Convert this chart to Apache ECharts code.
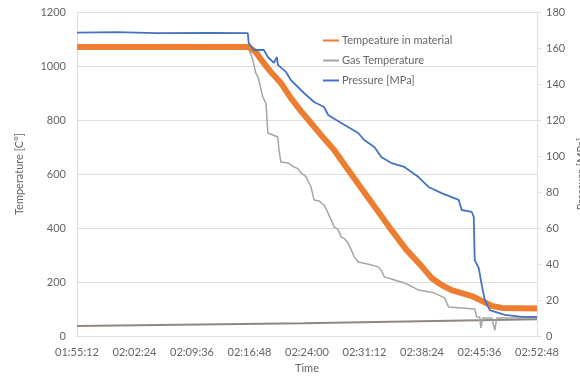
<!DOCTYPE html>
<html>
<head>
<meta charset="utf-8">
<script src="https://cdn.jsdelivr.net/npm/echarts@6/dist/echarts.min.js"></script>
<style>
  html, body { margin: 0; padding: 0; background: #fff; }
  #chart { width: 580px; height: 378px; }
</style>
</head>
<body>
<div id="chart"></div>
<script>
// start of the record, x values are seconds elapsed since then
const startTime = 6912 // 01:55:12
const timeMax = 3456
const timeStep = 432

// [elapsed s, °C]
const materialTemp = [
  [0, 1070], [1290, 1070], [1343, 1052], [1396, 1015], [1456, 978], [1532, 937],
  [1607, 881], [1683, 833], [1758, 789], [1834, 744], [1932, 689], [2022, 626],
  [2135, 548], [2249, 470], [2362, 393], [2475, 319], [2588, 259], [2664, 215],
  [2739, 189], [2815, 170], [2890, 159], [2966, 148], [3041, 130], [3117, 111],
  [3192, 104], [3456, 102],
]

// [elapsed s, °C]
const gasTemp = [
  [0, 1068], [1290, 1067], [1321, 1022], [1343, 974], [1360, 960], [1396, 885],
  [1420, 860], [1434, 752], [1509, 737], [1517, 689], [1532, 644], [1585, 641],
  [1630, 626], [1660, 620], [1683, 604], [1720, 590], [1758, 552], [1781, 504],
  [1820, 500], [1856, 485], [1880, 462], [1909, 430], [1932, 404], [1960, 395],
  [1985, 367], [2010, 360], [2037, 344], [2060, 320], [2083, 293], [2113, 274],
  [2190, 266], [2264, 256], [2290, 240], [2309, 219], [2380, 208], [2460, 196],
  [2510, 185], [2566, 170], [2620, 166], [2686, 159], [2762, 141], [2792, 107],
  [2988, 100], [3003, 70], [3026, 70], [3034, 30], [3049, 67], [3117, 67],
  [3139, 22], [3154, 67], [3456, 67],
]

// [elapsed s, MPa]
const pressure = [
  [0, 168.5], [300, 168.8], [600, 168.3], [1000, 168.4], [1283, 168.3], [1290, 162.8],
  [1328, 158.9], [1404, 158.9], [1434, 155], [1479, 151.7], [1502, 155], [1509, 150.6],
  [1570, 146.7], [1607, 142.2], [1705, 135], [1781, 130], [1856, 127.2], [1887, 122.8],
  [1985, 118.3], [2113, 112.8], [2158, 108.9], [2234, 105], [2286, 99.4], [2362, 96.1],
  [2460, 93.9], [2566, 88.3], [2641, 82.8], [2739, 79.4], [2868, 75.6], [2890, 70],
  [2966, 68.9], [2981, 66.1], [2988, 42.2], [3018, 37.8], [3041, 28.3], [3064, 20],
  [3101, 14.4], [3215, 11.7], [3343, 10.6], [3456, 10.6],
]

// ambient line near the bottom (no legend entry)
const ambientTemp = [[0, 37], [1700, 47], [3456, 62]]

const seriesNames = ['Tempeature in material', 'Gas Temperature', 'Pressure [MPa]']

const labelColor = '#656565'
const gridColor = '#dedede'

function fmtTime(v) {
  const t = startTime + v
  const pad = (n) => String(n).padStart(2, '0')
  return pad(Math.floor(t / 3600)) + ':' + pad(Math.floor((t % 3600) / 60)) + ':' + pad(t % 60)
}

const myChart = echarts.init(document.getElementById('chart'))

const option = {
  animation: false,
  textStyle: { fontFamily: 'Lato, "Open Sans", sans-serif' },
  grid: { left: 77, right: 43, top: 12, bottom: 42, outerBoundsMode: 'none' },
  legend: {
    data: seriesNames,
    orient: 'vertical',
    left: 318,
    top: 29,
    icon: 'rect',
    itemGap: 7,
    itemWidth: 16,
    itemHeight: 2,
    textStyle: { color: labelColor, fontSize: 11, lineHeight: 13, padding: [0, 0, 0, -2] },
  },
  xAxis: {
    type: 'value',
    min: 0,
    max: timeMax,
    interval: timeStep,
    name: 'Time',
    nameLocation: 'middle',
    nameGap: 22,
    nameTextStyle: { color: labelColor, fontSize: 11 },
    axisLine: { show: true, lineStyle: { color: gridColor } },
    axisTick: { show: false },
    splitLine: { show: false },
    axisLabel: { color: labelColor, fontSize: 11, margin: 11, formatter: fmtTime },
  },
  yAxis: [
    {
      type: 'value',
      min: 0,
      max: 1200,
      interval: 200,
      name: 'Temperature [C°]',
      nameLocation: 'middle',
      nameGap: 52,
      nameTextStyle: { color: labelColor, fontSize: 11 },
      axisLine: { show: true, lineStyle: { color: gridColor } },
      axisTick: { show: false },
      splitLine: { lineStyle: { color: gridColor } },
      axisLabel: { color: labelColor, fontSize: 11, margin: 11, formatter: (v) => String(v) },
    },
    {
      type: 'value',
      min: 0,
      max: 180,
      interval: 20,
      position: 'right',
      name: 'Pressure [MPa]',
      nameLocation: 'middle',
      nameGap: 32,
      nameTextStyle: { color: labelColor, fontSize: 11 },
      axisLine: { show: true, lineStyle: { color: gridColor } },
      axisTick: { show: true, length: 4, lineStyle: { color: gridColor } },
      splitLine: { show: false },
      axisLabel: { color: labelColor, fontSize: 11, margin: 9 },
    },
  ],
  series: [
    {
      name: 'ambient',
      type: 'line',
      data: ambientTemp,
      symbol: 'none',
      lineStyle: { color: '#8f877f', width: 2 },
      itemStyle: { color: '#8f877f' },
      z: 1,
    },
    {
      name: seriesNames[1],
      type: 'line',
      data: gasTemp,
      symbol: 'none',
      lineStyle: { color: '#a5a5a5', width: 1.5 },
      itemStyle: { color: '#a5a5a5' },
      z: 2,
    },
    {
      name: seriesNames[0],
      type: 'line',
      data: materialTemp,
      symbol: 'none',
      lineStyle: { color: '#ed7d31', width: 6 },
      itemStyle: { color: '#ed7d31' },
      z: 3,
    },
    {
      name: seriesNames[2],
      type: 'line',
      yAxisIndex: 1,
      data: pressure,
      symbol: 'none',
      lineStyle: { color: '#4472c4', width: 1.8 },
      itemStyle: { color: '#4472c4' },
      z: 4,
    },
  ],
}

myChart.setOption(option)
</script>
</body>
</html>
